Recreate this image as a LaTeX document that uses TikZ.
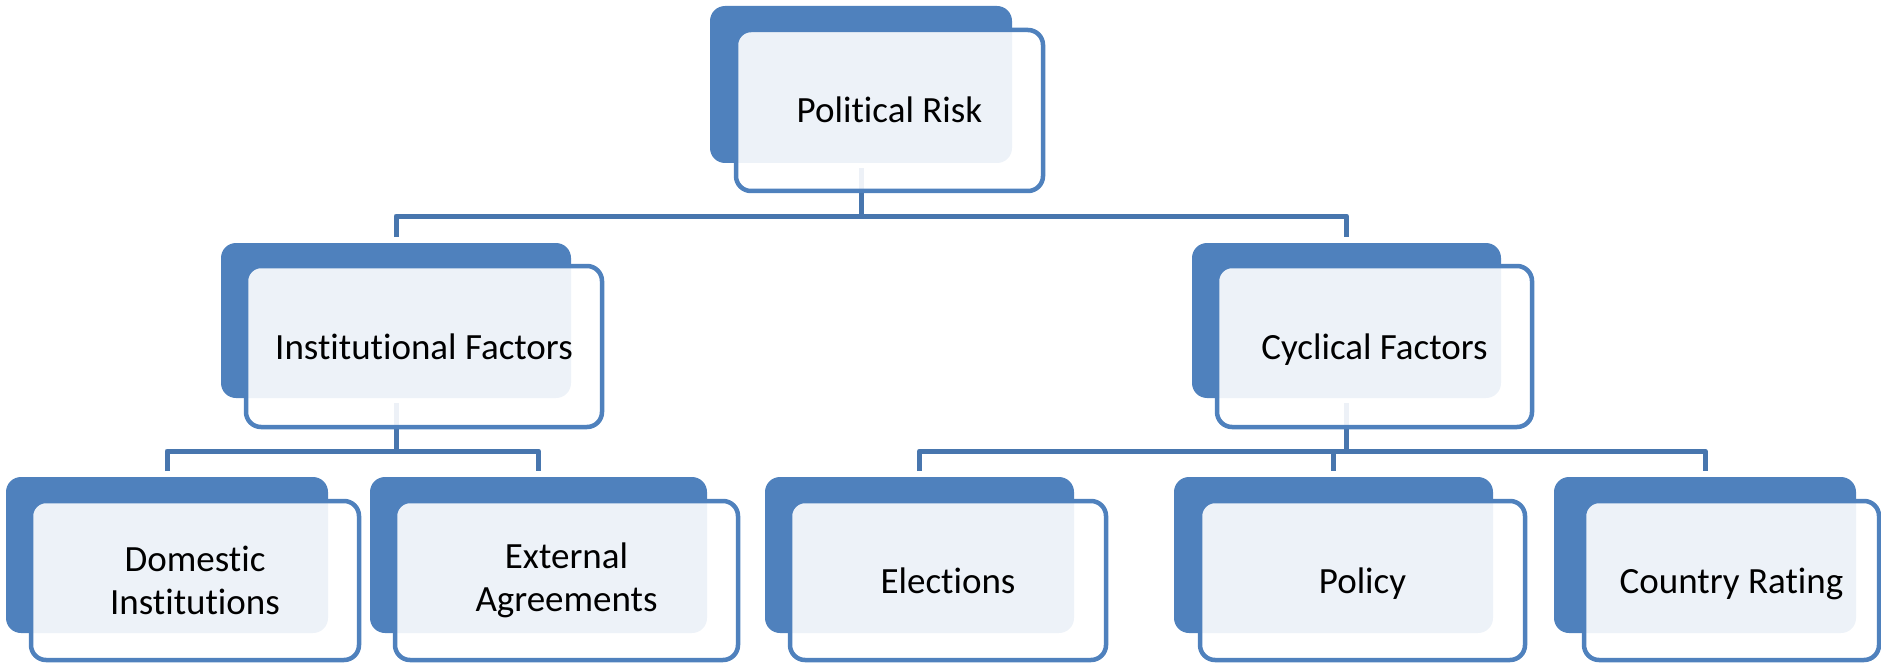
\documentclass[tikz,border=0pt]{standalone}
\usepackage{fontspec}
\setmainfont{Carlito}[Ligatures={NoCommon}]
\pgfdeclarelayer{bg}
\pgfsetlayers{bg,main}
\definecolor{boxblue}{HTML}{4F81BD}
\definecolor{connblue}{HTML}{4876AE}
\tikzset{
  backbox/.style={fill=boxblue, rounded corners=15pt, inner sep=0pt, outer sep=0pt},
  frontbox/.style={draw=boxblue, line width=4.5pt, fill=white, fill opacity=0.9, draw opacity=1, text opacity=1,
    rounded corners=15pt, inner sep=0pt, outer sep=0pt, align=center,
    font=\fontsize{37}{43}\selectfont, text=black},
  oneline/.style={text height=27pt, text depth=2pt},
  conn/.style={draw=connblue, line width=5pt, line join=round}
}
\begin{document}
\begin{tikzpicture}[x=1pt,y=-1pt]
\useasboundingbox (0,0) rectangle (1881,663);
% back boxes
\node[backbox, minimum width=302pt, minimum height=157pt] (b1) at (861,84.5) {};
\node[backbox, minimum width=350pt, minimum height=155pt] (b2) at (396,320.5) {};
\node[backbox, minimum width=309pt, minimum height=155pt] (b3) at (1346.5,320.5) {};
\node[backbox, minimum width=322pt, minimum height=156pt] (b4) at (167,555) {};
\node[backbox, minimum width=337pt, minimum height=156pt] (b5) at (538.5,555) {};
\node[backbox, minimum width=309pt, minimum height=156pt] (b6) at (919.5,555) {};
\node[backbox, minimum width=319pt, minimum height=156pt] (b7) at (1333.5,555) {};
\node[backbox, minimum width=302pt, minimum height=156pt] (b8) at (1705,555) {};
% front boxes
\node[frontbox, oneline, minimum width=307pt, minimum height=161pt] (f1) at (889.5,110.5) {Political Risk};
\node[frontbox, oneline, minimum width=356pt, minimum height=161pt] (f2) at (424,346.5) {Institutional Factors};
\node[frontbox, oneline, minimum width=315pt, minimum height=161pt] (f3) at (1374.5,346.5) {Cyclical Factors};
\node[frontbox, minimum width=328pt, minimum height=159pt] (f4) at (195,580.5) {Domestic\\Institutions};
\node[frontbox, minimum width=343pt, minimum height=159pt] (f5) at (566.5,580.5) {External\\Agreements};
\node[frontbox, oneline, minimum width=316pt, minimum height=159pt] (f6) at (948,580.5) {Elections};
\node[frontbox, oneline, minimum width=325pt, minimum height=159pt] (f7) at (1362.5,580.5) {Policy};
\node[frontbox, oneline, minimum width=295pt, minimum height=159pt] (f8) at (1731.5,580.5) {Country Rating};
% connector bars
\coordinate (bar1) at (0,216);
\coordinate (bar2) at (0,451);
\begin{pgfonlayer}{bg}
\draw[conn] ([yshift=-5pt]b1.south) -- (b1.south |- bar1);
\draw[conn] ([yshift=6pt]b2.north) -- (b2.north |- bar1) -- (b3.north |- bar1) -- ([yshift=6pt]b3.north);
\draw[conn] ([yshift=-5pt]b2.south) -- (b2.south |- bar2);
\draw[conn] ([yshift=6pt]b4.north) -- (b4.north |- bar2) -- (b5.north |- bar2) -- ([yshift=6pt]b5.north);
\draw[conn] ([yshift=-5pt]b3.south) -- (b3.south |- bar2);
\draw[conn] ([yshift=6pt]b6.north) -- (b6.north |- bar2) -- (b8.north |- bar2) -- ([yshift=6pt]b8.north);
\draw[conn] (b7.north |- bar2) -- ([yshift=6pt]b7.north);
\end{pgfonlayer}
\end{tikzpicture}
\end{document}
